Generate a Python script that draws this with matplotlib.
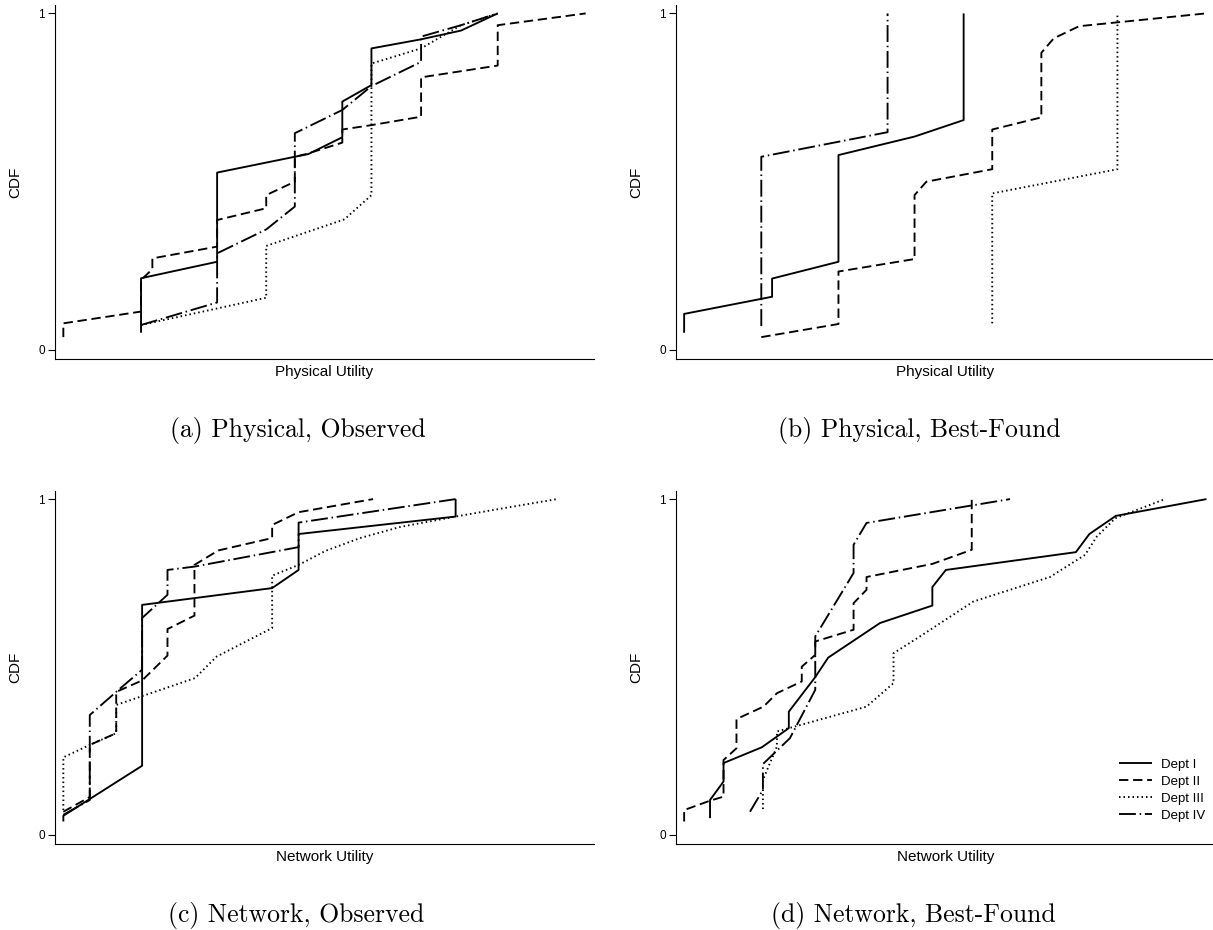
import matplotlib.pyplot as plt

plt.rcParams['font.family'] = ['Liberation Sans', 'DejaVu Sans']

depts = ["Dept I", "Dept II", "Dept III", "Dept IV"]

# (a) Physical, Observed  -- x on a 0-100 utility scale (no ticks shown)
a1_x = [16.0, 16.0, 30.1, 30.1, 44.5, 47.0, 53.3, 53.3, 58.7, 58.7, 67.9, 75.3, 82.1]
a1_y = [0.051, 0.213, 0.262, 0.527, 0.574, 0.582, 0.632, 0.738, 0.787, 0.896, 0.923, 0.949, 1.0]
a2_x = [1.6, 1.6, 16.0, 16.0, 18.1, 18.1, 30.1, 30.1, 39.2, 39.2, 44.5, 44.5, 46.6, 53.3, 53.3,
        58.7, 67.9, 67.9, 82.1, 82.1, 98.4]
a2_y = [0.038, 0.079, 0.114, 0.208, 0.240, 0.272, 0.307, 0.386, 0.421, 0.460, 0.500, 0.574, 0.582,
        0.616, 0.655, 0.668, 0.693, 0.810, 0.845, 0.965, 1.0]
a3_x = [16.0, 39.2, 39.2, 53.7, 58.7, 58.7, 67.9, 75.3, 82.1]
a3_y = [0.074, 0.155, 0.309, 0.388, 0.460, 0.851, 0.896, 0.965, 1.0]
a4_x = [16.0, 30.1, 30.1, 39.2, 44.5, 44.5, 53.3, 58.7, 67.9, 67.9, 75.3, 82.1]
a4_y = [0.074, 0.141, 0.287, 0.358, 0.426, 0.644, 0.713, 0.784, 0.856, 0.931, 0.965, 1.0]

# (b) Physical, Best-Found
b1_x = [1.6, 1.6, 17.9, 17.9, 30.2, 30.2, 44.3, 53.4, 53.4]
b1_y = [0.051, 0.107, 0.158, 0.212, 0.262, 0.579, 0.634, 0.683, 1.0]
b2_x = [15.9, 30.2, 30.2, 44.3, 44.3, 46.5, 58.7, 58.7, 67.8, 67.8, 70.1, 74.8, 98.3]
b2_y = [0.038, 0.077, 0.233, 0.270, 0.460, 0.500, 0.537, 0.655, 0.691, 0.883, 0.926, 0.962, 1.0]
b3_x = [58.7, 58.7, 81.9, 81.9]
b3_y = [0.079, 0.465, 0.537, 1.0]
b4_x = [15.9, 15.9, 39.3, 39.3]
b4_y = [0.071, 0.574, 0.647, 1.0]

# (c) Network, Observed
c1_x = [1.6, 1.6, 16.2, 16.2, 40.3, 45.2, 45.2, 74.3, 74.3]
c1_y = [0.040, 0.057, 0.206, 0.685, 0.735, 0.789, 0.896, 0.948, 1.0]
c2_x = [1.6, 6.5, 6.5, 11.4, 11.4, 16.2, 20.9, 20.9, 25.9, 25.9, 30.3, 40.3, 40.3, 45.2, 59.0]
c2_y = [0.069, 0.113, 0.268, 0.303, 0.426, 0.460, 0.534, 0.613, 0.653, 0.804, 0.847, 0.884,
        0.923, 0.961, 1.0]
c3_x = [1.6, 1.6, 6.5, 11.4, 11.4, 26.0, 30.0, 40.3, 40.3, 45.2, 50.2, 56.6, 64.0, 74.3, 82.5, 93.1]
c3_y = [0.074, 0.231, 0.268, 0.303, 0.387, 0.467, 0.531, 0.616, 0.772, 0.804, 0.846, 0.884,
        0.917, 0.948, 0.971, 1.0]
c4_x = [1.6, 6.5, 6.5, 11.4, 16.2, 16.2, 20.9, 20.9, 25.9, 45.2, 45.2, 74.3]
c4_y = [0.060, 0.104, 0.357, 0.426, 0.492, 0.646, 0.715, 0.789, 0.799, 0.857, 0.930, 1.0]

# (d) Network, Best-Found
d1_x = [6.4, 6.4, 8.9, 8.9, 16.0, 21.0, 21.0, 25.9, 28.3, 37.9, 47.6, 47.6, 50.1, 74.2, 76.7, 81.6, 98.4]
d1_y = [0.050, 0.104, 0.159, 0.214, 0.261, 0.318, 0.367, 0.470, 0.528, 0.631, 0.683, 0.738,
        0.789, 0.842, 0.896, 0.950, 1.0]
d2_x = [1.6, 1.6, 6.4, 8.9, 8.9, 11.3, 11.3, 16.3, 18.8, 23.4, 23.4, 25.9, 25.9, 33.0, 33.0,
        35.4, 35.4, 47.6, 54.9, 54.9]
d2_y = [0.040, 0.074, 0.102, 0.114, 0.223, 0.258, 0.345, 0.382, 0.422, 0.457, 0.501, 0.536,
        0.576, 0.611, 0.690, 0.730, 0.768, 0.807, 0.849, 1.0]
d3_x = [16.2, 16.2, 18.8, 18.8, 35.4, 40.4, 40.4, 45.3, 55.2, 69.4, 75.9, 78.1, 81.5, 90.7]
d3_y = [0.077, 0.164, 0.263, 0.308, 0.382, 0.452, 0.541, 0.591, 0.695, 0.768, 0.834, 0.889, 0.943, 1.0]
d4_x = [13.8, 16.2, 16.2, 21.2, 25.9, 25.9, 33.0, 33.0, 35.4, 62.0]
d4_y = [0.069, 0.134, 0.211, 0.288, 0.432, 0.591, 0.780, 0.864, 0.929, 1.0]

styles = ['-', (0, (5, 2.5)), (0, (0.8, 1.6)), (0, (9, 2, 0.8, 2))]

panels = [
    ((54.7, 5, 594.3, 359), "Physical Utility", "(a) Physical, Observed", (298, 430),
     [(a1_x, a1_y), (a2_x, a2_y), (a3_x, a3_y), (a4_x, a4_y)]),
    ((675.5, 5, 1215.1, 359), "Physical Utility", "(b) Physical, Best-Found", (919, 430),
     [(b1_x, b1_y), (b2_x, b2_y), (b3_x, b3_y), (b4_x, b4_y)]),
    ((54.7, 490.7, 594.3, 844), "Network Utility", "(c) Network, Observed", (296, 915),
     [(c1_x, c1_y), (c2_x, c2_y), (c3_x, c3_y), (c4_x, c4_y)]),
    ((675.5, 490.7, 1215.1, 844), "Network Utility", "(d) Network, Best-Found", (913, 915),
     [(d1_x, d1_y), (d2_x, d2_y), (d3_x, d3_y), (d4_x, d4_y)]),
]

W, H = 1213, 930
fig = plt.figure(figsize=(W / 100, H / 100), dpi=100)

for i, (box, xlab, caption, cap_xy, series) in enumerate(panels):
    l, t, r, b = box
    ax = fig.add_axes([l / W, 1 - b / H, (r - l) / W, (b - t) / H])
    for (xs, ys), ls, name in zip(series, styles, depts):
        ax.plot(xs, ys, color='black', lw=1.35, linestyle=ls, label=name,
                solid_capstyle='butt', dash_capstyle='butt')
    ax.set_xlim(0, 100)
    ax.set_ylim(-0.027, 1.025)
    ax.set_xticks([])
    ax.set_yticks([0, 1])
    ax.set_yticklabels(['0', '1'])
    ax.tick_params(axis='y', direction='out', length=5, width=0.8, labelsize=8.5, pad=2)
    for s in ['top', 'right']:
        ax.spines[s].set_visible(False)
    for s in ['left', 'bottom']:
        ax.spines[s].set_linewidth(0.8)
    ax.set_xlabel(xlab, fontsize=11)
    ax.xaxis.label.set_verticalalignment('center')
    ax.xaxis.set_label_coords(0.5, -0.036)
    ax.set_ylabel('CDF', fontsize=11)
    ax.yaxis.label.set_verticalalignment('center')
    ax.yaxis.set_label_coords(-0.0736, 0.5)
    fig.text(cap_xy[0] / W, 1 - cap_xy[1] / H, caption, ha='center', va='center',
             fontfamily=['cmr10', 'DejaVu Serif'], fontsize=18.5)
    if i == 3:
        ax.legend(loc='upper left', bbox_to_anchor=(0.80, 0.275), frameon=False,
                  fontsize=9.5, handlelength=2.5, handletextpad=0.7, labelspacing=0.35,
                  borderpad=0.4)

fig.savefig('out.png', dpi=100)
